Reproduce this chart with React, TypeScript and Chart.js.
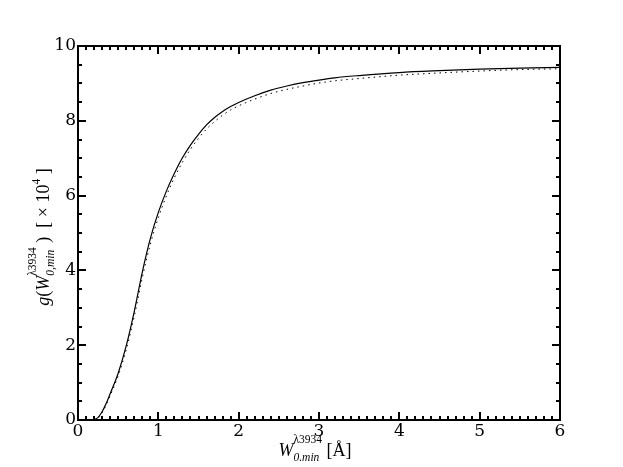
import React, { useEffect, useRef } from "react";
import { Chart, registerables } from "chart.js";

Chart.register(...registerables);

// Solid curve
const xSolid = [0.19, 0.25, 0.3, 0.35, 0.4, 0.5, 0.6, 0.7, 0.8, 0.9, 1.0, 1.1, 1.2, 1.3, 1.4, 1.5, 1.6, 1.7, 1.8, 1.9, 2.0, 2.2, 2.4, 2.6, 2.8, 3.0, 3.2, 3.5, 4.0, 4.5, 5.0, 5.5, 6.0];
const ySolid = [0.0, 0.07, 0.22, 0.44, 0.7, 1.25, 1.98, 2.9, 3.95, 4.85, 5.55, 6.12, 6.6, 7.01, 7.35, 7.64, 7.89, 8.09, 8.25, 8.38, 8.49, 8.67, 8.82, 8.93, 9.02, 9.09, 9.15, 9.21, 9.29, 9.34, 9.38, 9.41, 9.43];

// Dotted curve
const xDotted = [0.2, 0.25, 0.3, 0.35, 0.4, 0.5, 0.6, 0.7, 0.8, 0.9, 1.0, 1.1, 1.2, 1.3, 1.4, 1.5, 1.6, 1.7, 1.8, 1.9, 2.0, 2.2, 2.4, 2.6, 2.8, 3.0, 3.2, 3.5, 4.0, 4.5, 5.0, 5.5, 5.97];
const yDotted = [0.0, 0.05, 0.19, 0.4, 0.65, 1.18, 1.88, 2.77, 3.8, 4.7, 5.41, 5.99, 6.48, 6.89, 7.24, 7.53, 7.78, 7.98, 8.15, 8.29, 8.4, 8.58, 8.73, 8.84, 8.93, 9.01, 9.07, 9.13, 9.22, 9.28, 9.33, 9.37, 9.39];

const xMin = 0, xMax = 6, xMajor = 1, xMinor = 0.1;
const yMin = 0, yMax = 10, yMajor = 2, yMinor = 0.5;

const TICK_FONT = '"DejaVu Serif", serif';
const TITLE_FONT = '"Liberation Serif", "Times New Roman", serif';

type Seg =
  | { t: string; f: string; dy?: number }
  | { sup: string; sub: string; fs: string; fb: string; dSup: number; dSub: number };

function segWidth(ctx: CanvasRenderingContext2D, s: Seg) {
  if ("t" in s) {
    ctx.font = s.f;
    return ctx.measureText(s.t).width;
  }
  ctx.font = s.fs;
  const a = ctx.measureText(s.sup).width;
  ctx.font = s.fb;
  const b = ctx.measureText(s.sub).width;
  return Math.max(a, b);
}

function drawRich(ctx: CanvasRenderingContext2D, segs: Seg[], cx: number, baseline: number) {
  let total = 0;
  for (const s of segs) total += segWidth(ctx, s);
  let x = cx - total / 2;
  ctx.textBaseline = "alphabetic";
  ctx.textAlign = "left";
  ctx.fillStyle = "#000";
  for (const s of segs) {
    const w = segWidth(ctx, s);
    if ("t" in s) {
      ctx.font = s.f;
      ctx.fillText(s.t, x, baseline + (s.dy || 0));
    } else {
      ctx.font = s.fs;
      ctx.fillText(s.sup, x, baseline + s.dSup);
      ctx.font = s.fb;
      ctx.fillText(s.sub, x, baseline + s.dSub);
    }
    x += w;
  }
}

const MAIN = `18px ${TITLE_FONT}`;
const ITAL = `italic 18px ${TITLE_FONT}`;
const SMALL = `11.5px ${TITLE_FONT}`;
const SMALL_IT = `italic 11.5px ${TITLE_FONT}`;

const xTitle: Seg[] = [
  { t: "W", f: ITAL },
  { sup: "\u03bb3934", sub: "0.min", fs: SMALL, fb: SMALL_IT, dSup: -13, dSub: 5 },
  { t: " [\u00c5]", f: MAIN },
];

const yTitle: Seg[] = [
  { t: "g", f: ITAL },
  { t: "(", f: MAIN },
  { t: "W", f: ITAL },
  { sup: "\u03bb3934", sub: "0,min", fs: SMALL, fb: SMALL_IT, dSup: -13, dSub: 5 },
  { t: " )  [ \u00d7 10", f: MAIN },
  { t: "4", f: SMALL, dy: -9 },
  { t: " ]", f: MAIN },
];

const framePlugin = {
  id: "frame",
  afterDraw(chart: any) {
    const ctx: CanvasRenderingContext2D = chart.ctx;
    const { left, right, top, bottom } = chart.chartArea;
    const xs = chart.scales.x;
    const ys = chart.scales.y;
    ctx.save();
    ctx.strokeStyle = "#000";
    ctx.lineWidth = 2;
    ctx.lineCap = "butt";
    const nx = Math.round((xMax - xMin) / xMinor);
    for (let i = 0; i <= nx; i++) {
      const v = xMin + i * xMinor;
      const major = Math.abs(v / xMajor - Math.round(v / xMajor)) < 1e-6;
      const len = major ? 8 : 4;
      const px = Math.round(xs.getPixelForValue(v));
      ctx.beginPath();
      ctx.moveTo(px, bottom);
      ctx.lineTo(px, bottom - len);
      ctx.moveTo(px, top);
      ctx.lineTo(px, top + len);
      ctx.stroke();
    }
    const ny = Math.round((yMax - yMin) / yMinor);
    for (let i = 0; i <= ny; i++) {
      const v = yMin + i * yMinor;
      const major = Math.abs(v / yMajor - Math.round(v / yMajor)) < 1e-6;
      const len = major ? 8 : 4;
      const py = Math.round(ys.getPixelForValue(v));
      ctx.beginPath();
      ctx.moveTo(left, py);
      ctx.lineTo(left + len, py);
      ctx.moveTo(right, py);
      ctx.lineTo(right - len, py);
      ctx.stroke();
    }
    ctx.strokeRect(left, top, right - left, bottom - top);

    drawRich(ctx, xTitle, (left + right) / 2 - 4, 456);
    ctx.save();
    ctx.translate(49, (top + bottom) / 2 + 4);
    ctx.rotate(-Math.PI / 2);
    drawRich(ctx, yTitle, 0, 0);
    ctx.restore();
    ctx.restore();
  },
};

export default function App() {
  const ref = useRef<HTMLCanvasElement | null>(null);
  useEffect(() => {
    if (!ref.current) return;
    const chart = new Chart(ref.current, {
      type: "line",
      data: {
        datasets: [
          {
            label: "solid",
            data: xSolid.map((x, i) => ({ x, y: ySolid[i] })),
            borderColor: "#000",
            borderWidth: 1.2,
            pointRadius: 0,
            cubicInterpolationMode: "monotone",
            fill: false,
          },
          {
            label: "dotted",
            data: xDotted.map((x, i) => ({ x, y: yDotted[i] })),
            borderColor: "#000",
            borderWidth: 1,
            borderDash: [1.5, 4],
            pointRadius: 0,
            cubicInterpolationMode: "monotone",
            fill: false,
          },
        ],
      },
      options: {
        animation: false,
        responsive: false,
        maintainAspectRatio: false,
        layout: { padding: { left: 8, top: 46, right: 63, bottom: 0 } },
        plugins: { legend: { display: false }, tooltip: { enabled: false } },
        scales: {
          x: {
            type: "linear",
            min: xMin,
            max: xMax,
            grid: { display: false, drawTicks: false },
            border: { display: false },
            ticks: {
              stepSize: xMajor,
              color: "#000",
              font: { family: TICK_FONT, size: 17 },
              padding: 1,
              maxRotation: 0,
              callback: (v: any) => String(v),
            },
            afterFit: (s: any) => {
              s.height = 47;
            },
          },
          y: {
            type: "linear",
            min: yMin,
            max: yMax,
            grid: { display: false, drawTicks: false },
            border: { display: false },
            ticks: {
              stepSize: yMajor,
              color: "#000",
              font: { family: TICK_FONT, size: 17 },
              padding: 2,
              callback: (v: any) => String(v),
            },
            afterFit: (s: any) => {
              s.width = 70;
            },
          },
        },
      },
      plugins: [framePlugin],
    });
    return () => chart.destroy();
  }, []);
  return (
    <div style={{ position: "fixed", left: 0, top: 0, width: 623, height: 467, background: "#fff" }}>
      <canvas ref={ref} width={623} height={467} style={{ width: 623, height: 467, display: "block" }} />
    </div>
  );
}
